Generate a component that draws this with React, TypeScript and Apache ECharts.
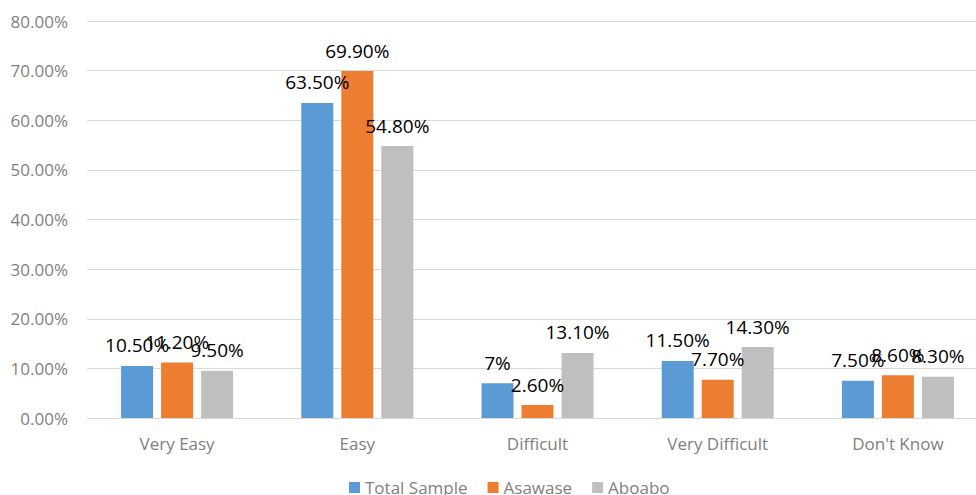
import React, { useEffect, useRef } from "react";
import * as echarts from "echarts";

const categories = ["Very Easy", "Easy", "Difficult", "Very Difficult", "Don't Know"];
const totalSample = [10.5, 63.5, 7, 11.5, 7.5];
const asawase = [11.2, 69.9, 2.6, 7.7, 8.6];
const aboabo = [9.5, 54.8, 13.1, 14.3, 8.3];

const seriesNames = ["Total Sample", "Asawase", "Aboabo"];
const seriesColors = ["#5B9BD5", "#ED7D31", "#BFBFBF"];

const FONT = "'Open Sans', 'Liberation Sans', sans-serif";

const fmtValue = (v: number) => (Number.isInteger(v) ? `${v}%` : `${v.toFixed(2)}%`);

// The plot runs slightly past the visible frame on the right, so the chart
// canvas is wider than its clipping wrapper.
const VIEW_W = 976;
const VIEW_H = 495;
const CHART_W = 988;

export default function App() {
  const ref = useRef<HTMLDivElement>(null);

  useEffect(() => {
    if (!ref.current) return;
    const chart = echarts.init(ref.current, null, { renderer: "svg" });
    const data = [totalSample, asawase, aboabo];
    chart.setOption({
      animation: false,
      backgroundColor: "#ffffff",
      grid: { left: 87, right: 0, top: 21, bottom: 77, containLabel: false },
      legend: {
        data: seriesNames,
        left: 344,
        top: 474,
        itemWidth: 11,
        itemHeight: 11,
        itemGap: 20,
        icon: "rect",
        textStyle: { color: "#7F7F7F", fontSize: 17, fontFamily: FONT },
      },
      xAxis: {
        type: "category",
        data: categories,
        axisLine: { show: true, lineStyle: { color: "#D9D9D9", width: 1 } },
        axisTick: { show: false },
        axisLabel: { color: "#7F7F7F", fontSize: 17, fontFamily: FONT, margin: 17 },
      },
      yAxis: {
        type: "value",
        min: 0,
        max: 80,
        interval: 10,
        axisLine: { show: false },
        axisTick: { show: false },
        splitLine: { lineStyle: { color: "#D9D9D9", width: 1 } },
        axisLabel: {
          color: "#7F7F7F",
          fontSize: 17,
          fontFamily: FONT,
          margin: 19,
          formatter: (v: number) => `${v.toFixed(2)}%`,
        },
      },
      series: seriesNames.map((name, i) => ({
        name,
        type: "bar",
        data: data[i],
        barWidth: 32,
        barGap: "25%",
        itemStyle: { color: seriesColors[i] },
        label: {
          show: true,
          position: "top",
          distance: 11,
          color: "#000000",
          fontSize: 19,
          fontFamily: FONT,
          formatter: (p: any) => fmtValue(p.value),
        },
      })),
    });
    return () => chart.dispose();
  }, []);

  return (
    <div
      style={{
        position: "absolute",
        left: 0,
        top: 0,
        width: VIEW_W,
        height: VIEW_H,
        overflow: "hidden",
        background: "#ffffff",
      }}
    >
      <div ref={ref} style={{ width: CHART_W, height: VIEW_H }} />
    </div>
  );
}
